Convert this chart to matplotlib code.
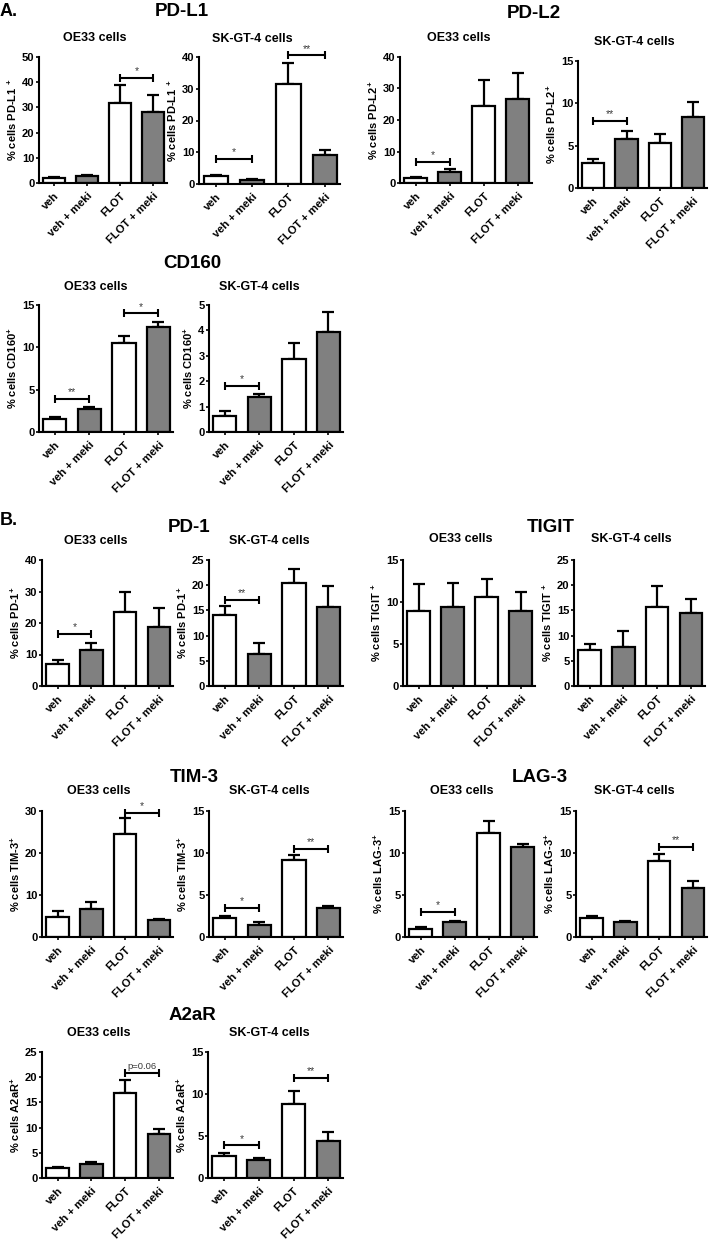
import matplotlib
matplotlib.use("Agg")
import matplotlib.pyplot as plt
import numpy as np

plt.rcParams['font.family'] = ['Liberation Sans', 'DejaVu Sans']
plt.rcParams['mathtext.fontset'] = 'custom'
plt.rcParams['mathtext.rm'] = 'Liberation Sans'
plt.rcParams['mathtext.bf'] = 'Liberation Sans:bold'

# ---------------- data ----------------
CATEGORIES = ["veh", "veh + meki", "FLOT", "FLOT + meki"]
FILLS = ["white", "#808080", "white", "#808080"]

PDL1_OE33_MEAN = [1.85, 2.6, 31.7, 28.3]
PDL1_OE33_ERR = [0.4, 0.6, 7.2, 6.7]
PDL1_SK_MEAN = [2.4, 1.2, 31.6, 9.05]
PDL1_SK_ERR = [0.3, 0.3, 6.5, 1.65]

PDL2_OE33_MEAN = [1.7, 3.6, 24.3, 26.8]
PDL2_OE33_ERR = [0.15, 0.8, 8.5, 8.1]
PDL2_SK_MEAN = [2.92, 5.8, 5.37, 8.33]
PDL2_SK_ERR = [0.48, 0.9, 0.95, 1.87]

CD160_OE33_MEAN = [1.57, 2.75, 10.48, 12.45]
CD160_OE33_ERR = [0.16, 0.23, 0.91, 0.51]
CD160_SK_MEAN = [0.64, 1.36, 2.87, 3.93]
CD160_SK_ERR = [0.17, 0.13, 0.62, 0.81]

PD1_OE33_MEAN = [6.97, 11.3, 23.5, 18.6]
PD1_OE33_ERR = [1.23, 2.3, 6.3, 6.1]
PD1_SK_MEAN = [14.1, 6.33, 20.4, 15.6]
PD1_SK_ERR = [1.7, 2.27, 2.8, 4.3]

TIGIT_OE33_MEAN = [8.93, 9.44, 10.6, 8.97]
TIGIT_OE33_ERR = [3.17, 2.86, 2.1, 2.18]
TIGIT_SK_MEAN = [7.17, 7.76, 15.6, 14.4]
TIGIT_SK_ERR = [1.19, 3.24, 4.3, 2.9]

TIM3_OE33_MEAN = [4.83, 6.57, 24.6, 3.96]
TIM3_OE33_ERR = [1.37, 1.83, 3.7, 0.34]
TIM3_SK_MEAN = [2.3, 1.39, 9.14, 3.4]
TIM3_SK_ERR = [0.2, 0.35, 0.59, 0.32]

LAG3_OE33_MEAN = [0.99, 1.78, 12.43, 10.68]
LAG3_OE33_ERR = [0.16, 0.12, 1.34, 0.4]
LAG3_SK_MEAN = [2.26, 1.74, 9.06, 5.82]
LAG3_SK_ERR = [0.24, 0.2, 0.87, 0.87]

A2AR_OE33_MEAN = [1.97, 2.83, 16.8, 8.8]
A2AR_OE33_ERR = [0.2, 0.37, 2.7, 0.9]
A2AR_SK_MEAN = [2.64, 2.13, 8.8, 4.46]
A2AR_SK_ERR = [0.32, 0.27, 1.54, 0.99]

# significance brackets: (bar i, bar j, y value, label)
PDL1_OE33_SIG = [(2, 3, 41.7, "*")]
PDL1_SK_SIG = [(0, 1, 7.9, "*"), (2, 3, 40.5, "**")]
PDL2_OE33_SIG = [(0, 1, 6.6, "*")]
PDL2_SK_SIG = [(0, 1, 7.9, "**")]
CD160_OE33_SIG = [(0, 1, 3.93, "**"), (2, 3, 14.0, "*")]
CD160_SK_SIG = [(0, 1, 1.83, "*")]
PD1_OE33_SIG = [(0, 1, 16.6, "*")]
PD1_SK_SIG = [(0, 1, 17.1, "**")]
TIGIT_OE33_SIG = []
TIGIT_SK_SIG = []
TIM3_OE33_SIG = [(2, 3, 29.5, "*")]
TIM3_SK_SIG = [(0, 1, 3.48, "*"), (2, 3, 10.5, "**")]
LAG3_OE33_SIG = [(0, 1, 3.0, "*")]
LAG3_SK_SIG = [(2, 3, 10.76, "**")]
A2AR_OE33_SIG = [(2, 3, 20.9, "p=0.06")]
A2AR_SK_SIG = [(0, 1, 3.87, "*"), (2, 3, 11.96, "**")]

# ---------------- layout ----------------
W, H = 709, 1240
DPI = 100
fig = plt.figure(figsize=(W / DPI, H / DPI), dpi=DPI)


def px_axes(l, t, r, b):
    return fig.add_axes([l / W, 1 - b / H, (r - l) / W, (b - t) / H])


def ptext(x, y, s, **kw):
    fig.text(x / W, 1 - y / H, s, **kw)


def panel(box, means, errs, sig, ymax, ystep, marker, sup_space, title_xy):
    ax = px_axes(*box)
    x = np.arange(len(CATEGORIES))
    ax.errorbar(x, means, yerr=[np.zeros(len(errs)), errs], fmt='none',
                ecolor='black', elinewidth=1.6, capsize=4.2, capthick=1.6,
                zorder=1)
    ax.bar(x, means, width=0.67, color=FILLS, edgecolor='black',
           linewidth=1.6, zorder=2)
    ax.set_xlim(-0.46, 3.42)
    ax.set_ylim(0, ymax)
    ticks = np.arange(0, ymax + 0.001, ystep)
    ax.set_yticks(ticks)
    ax.set_yticklabels([f"{v:g}" for v in ticks], fontsize=8,
                       fontweight='bold')
    ax.set_xticks(x)
    ax.set_xticklabels(CATEGORIES, rotation=45, ha='right', va='top',
                       rotation_mode='anchor', fontsize=8, fontweight='bold')
    for s in ['top', 'right']:
        ax.spines[s].set_visible(False)
    for s in ['left', 'bottom']:
        ax.spines[s].set_linewidth(1.5)
    ax.tick_params(axis='y', length=2.5, width=1.2, pad=0.8)
    ax.tick_params(axis='x', length=2.5, width=1.2, pad=3)
    sp = " " if sup_space else ""
    ax.set_ylabel(r"% cells " + marker + sp + r"$^{\mathbf{+}}$",
                  fontsize=8, fontweight='bold', labelpad=2)
    for (i, j, yv, lab) in sig:
        ax.plot([i, j], [yv, yv], color='black', lw=1.5, clip_on=False,
                solid_capstyle='butt', zorder=3)
        ax.plot([i, j], [yv, yv], linestyle='none', marker='|', markersize=6,
                markeredgewidth=1.5, color='black', clip_on=False, zorder=3)
        fs = 6.8 if lab.startswith("p") else 7.5
        ax.annotate(lab, xy=((i + j) / 2, yv), xycoords='data',
                    xytext=(0, 1.2), textcoords='offset points',
                    ha='center', va='bottom', fontsize=fs, color='#3a3a3a',
                    annotation_clip=False)
    ptext(title_xy[0], title_xy[1], title_xy[2], ha='center', va='center',
          fontsize=9, fontweight='bold')
    return ax


OE = "OE33 cells"
SK = "SK-GT-4 cells"

# Row A1
panel((39, 57, 167, 183), PDL1_OE33_MEAN, PDL1_OE33_ERR, PDL1_OE33_SIG, 50, 10,
      "PD-L1", True, (95, 38, OE))
panel((199, 57, 340, 184), PDL1_SK_MEAN, PDL1_SK_ERR, PDL1_SK_SIG, 40, 10,
      "PD-L1", True, (252, 39, SK))
panel((400, 57, 532, 183), PDL2_OE33_MEAN, PDL2_OE33_ERR, PDL2_OE33_SIG, 40, 10,
      "PD-L2", False, (459, 38, OE))
panel((578, 61, 707, 188), PDL2_SK_MEAN, PDL2_SK_ERR, PDL2_SK_SIG, 15, 5,
      "PD-L2", False, (634, 42, SK))
# Row A2
panel((39, 305, 173, 432), CD160_OE33_MEAN, CD160_OE33_ERR, CD160_OE33_SIG, 15, 5,
      "CD160", False, (96, 287, OE))
panel((209, 305, 343, 432), CD160_SK_MEAN, CD160_SK_ERR, CD160_SK_SIG, 5, 1,
      "CD160", False, (259, 287, SK))
# Row B1
panel((42, 560, 173, 686), PD1_OE33_MEAN, PD1_OE33_ERR, PD1_OE33_SIG, 40, 10,
      "PD-1", False, (96, 541, OE))
panel((209, 560, 343, 686), PD1_SK_MEAN, PD1_SK_ERR, PD1_SK_SIG, 25, 5,
      "PD-1", False, (269, 541, SK))
panel((403, 560, 535, 686), TIGIT_OE33_MEAN, TIGIT_OE33_ERR, TIGIT_OE33_SIG, 15, 5,
      "TIGIT", True, (461, 539, OE))
panel((574, 560, 705, 686), TIGIT_SK_MEAN, TIGIT_SK_ERR, TIGIT_SK_SIG, 25, 5,
      "TIGIT", True, (631, 539, SK))
# Row B2
panel((42, 811, 173, 937), TIM3_OE33_MEAN, TIM3_OE33_ERR, TIM3_OE33_SIG, 30, 10,
      "TIM-3", False, (99, 791, OE))
panel((209, 811, 343, 937), TIM3_SK_MEAN, TIM3_SK_ERR, TIM3_SK_SIG, 15, 5,
      "TIM-3", False, (269, 791, SK))
panel((405, 811, 537, 937), LAG3_OE33_MEAN, LAG3_OE33_ERR, LAG3_OE33_SIG, 15, 5,
      "LAG-3", False, (462, 791, OE))
panel((576, 811, 707, 937), LAG3_SK_MEAN, LAG3_SK_ERR, LAG3_SK_SIG, 15, 5,
      "LAG-3", False, (634, 791, SK))
# Row B3
panel((42, 1052, 173, 1178), A2AR_OE33_MEAN, A2AR_OE33_ERR, A2AR_OE33_SIG, 25, 5,
      "A2aR", False, (99, 1033, OE))
panel((208, 1052, 343, 1178), A2AR_SK_MEAN, A2AR_SK_ERR, A2AR_SK_SIG, 15, 5,
      "A2aR", False, (269, 1033, SK))

# big titles
BIG = [("PD-L1", 182, 12), ("PD-L2", 534, 13), ("CD160", 192, 264),
       ("PD-1", 189, 527), ("TIGIT", 551, 527), ("TIM-3", 194, 777),
       ("LAG-3", 540, 777), ("A2aR", 192, 1015)]
for name, bx, by in BIG:
    ptext(bx, by, name, ha='center', va='center', fontsize=13.5, fontweight='bold')
ptext(0, 12, "A.", ha='left', va='center', fontsize=13, fontweight='bold')
ptext(0, 520, "B.", ha='left', va='center', fontsize=13, fontweight='bold')

fig.savefig("out.png", dpi=DPI, facecolor='white')
